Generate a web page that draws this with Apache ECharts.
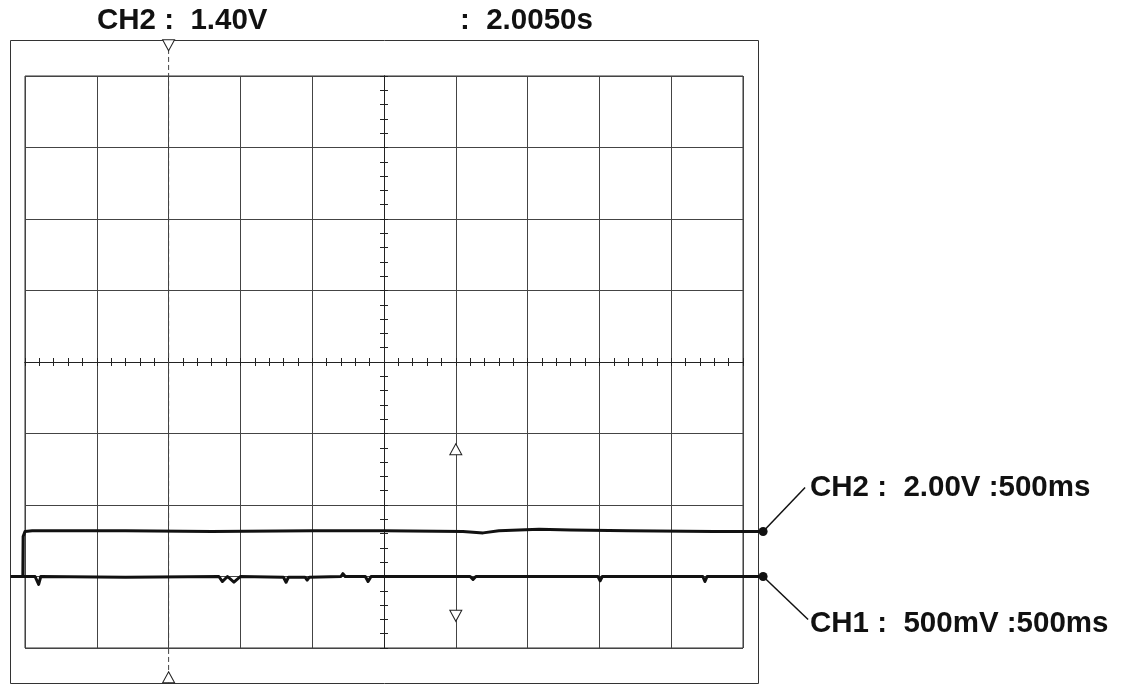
<!DOCTYPE html>
<html><head><meta charset="utf-8">
<script src="https://cdn.jsdelivr.net/npm/echarts@6/dist/echarts.min.js"></script>
<style>html,body{margin:0;padding:0;background:#fff}#c{width:1126px;height:685px}</style>
</head><body><div id="c"></div>
<script>
// Time axis: seconds relative to screen centre (500 ms/div, 10 div); vertical axis: screen divisions
const xRange = [-2.5, 2.5];
const xStep = 0.5;
const yRange = [-4, 4];
const yStep = 1;

// CH1 trace (500 mV/div)
const ch1T = [-2.60,-2.43,-2.405,-2.39,-1.80,-1.15,-1.125,-1.09,-1.045,-1.00,-0.70,-0.682,-0.665,-0.55,-0.535,-0.52,-0.30,-0.286,-0.27,-0.13,-0.111,-0.09,0.30,0.60,0.62,0.64,1.30,1.49,1.505,1.52,2.22,2.235,2.25,2.64];
const ch1V = [-3.00,-3.00,-3.11,-3.00,-3.01,-3.00,-3.07,-3.00,-3.08,-3.00,-3.01,-3.08,-3.01,-3.01,-3.05,-3.01,-3.00,-2.96,-3.00,-3.00,-3.07,-3.00,-3.00,-3.00,-3.04,-3.00,-3.00,-3.00,-3.06,-3.00,-3.00,-3.07,-3.00,-3.00];

// CH2 trace (2.00 V/div)
const ch2T = [-2.515,-2.513,-2.50,-2.45,-1.80,-1.20,-0.50,0.00,0.55,0.69,0.80,1.08,1.30,1.70,2.30,2.64];
const ch2V = [-3.00,-2.44,-2.37,-2.36,-2.36,-2.37,-2.36,-2.36,-2.37,-2.39,-2.36,-2.34,-2.35,-2.36,-2.37,-2.37];

// Cursors
const cursorT = -1.5;
const cursorSpan = [4.49, -4.49];
const markerT = [-1.5, -1.5, 0.5, 0.5];
const markerV = [4.43, -4.41, -1.22, -3.55];
const markerDown = [true, false, false, true];

// Texts
const topLabel1 = 'CH2 :  1.40V';
const topLabel2 = ':  2.0050s';
const ch2Label = 'CH2 :  2.00V :500ms';
const ch1Label = 'CH1 :  500mV :500ms';

const zip = (a, b) => a.map((v, i) => [v, b[i]]);
const last = (a) => a[a.length - 1];
const FONT = '"Liberation Sans", Arial, sans-serif';

const commonX = {type: 'value', min: xRange[0], max: xRange[1], interval: xStep, axisLabel: {show: false}};
const commonY = {type: 'value', min: yRange[0], max: yRange[1], interval: yStep, axisLabel: {show: false}};
const tickStyle = {color: '#222', width: 1};
const axisCfg = (extra) => Object.assign({
  axisLine: {show: true, onZero: true, lineStyle: {color: '#222', width: 1}},
  axisTick: {show: true, length: 4, lineStyle: tickStyle},
  minorTick: {show: true, splitNumber: 5, length: 4, lineStyle: tickStyle}
}, extra);

const chart = echarts.init(document.getElementById('c'), null, {renderer: 'canvas'});
chart.setOption({
  animation: false,
  backgroundColor: '#fff',
  grid: {left: 25, top: 76, width: 718, height: 572, show: true, borderColor: '#333', borderWidth: 1},
  xAxis: [
    Object.assign({}, commonX, axisCfg({position: 'bottom',
      splitLine: {show: true, lineStyle: {color: '#444', width: 1}}})),
    Object.assign({}, commonX, axisCfg({position: 'top',
      axisLine: {show: true, onZero: true, onZeroAxisIndex: 0, lineStyle: {color: '#222', width: 1}},
      splitLine: {show: false}}))
  ],
  yAxis: [
    Object.assign({}, commonY, axisCfg({position: 'left',
      splitLine: {show: true, lineStyle: {color: '#444', width: 1}}})),
    Object.assign({}, commonY, axisCfg({position: 'right',
      axisLine: {show: true, onZero: true, onZeroAxisIndex: 0, lineStyle: {color: '#222', width: 1}},
      splitLine: {show: false}}))
  ],
  series: [
    {name: 'cursor', type: 'lines', coordinateSystem: 'cartesian2d', xAxisIndex: 0, yAxisIndex: 0,
     polyline: true, clip: false, data: [{coords: cursorSpan.map(v => [cursorT, v])}],
     lineStyle: {color: '#444', width: 1, type: [5, 3], opacity: 1}, z: 3},
    {name: 'CH2', type: 'lines', coordinateSystem: 'cartesian2d', xAxisIndex: 0, yAxisIndex: 0,
     polyline: true, clip: false, data: [{coords: zip(ch2T, ch2V)}],
     lineStyle: {color: '#111', width: 3, opacity: 1, join: 'round'}, z: 5},
    {name: 'CH1', type: 'lines', coordinateSystem: 'cartesian2d', xAxisIndex: 0, yAxisIndex: 0,
     polyline: true, clip: false, data: [{coords: zip(ch1T, ch1V)}],
     lineStyle: {color: '#111', width: 3, opacity: 1, join: 'round'}, z: 5},
    {name: 'ends', type: 'scatter', xAxisIndex: 0, yAxisIndex: 0, clip: false,
     symbol: 'circle', symbolSize: 9, itemStyle: {color: '#111', opacity: 1},
     data: [[last(ch2T), last(ch2V)], [last(ch1T), last(ch1V)]], z: 6},
    {name: 'markers', type: 'scatter', xAxisIndex: 0, yAxisIndex: 0, clip: false,
     symbol: 'triangle', symbolSize: [12, 11],
     itemStyle: {color: '#fff', borderColor: '#222', borderWidth: 1, opacity: 1},
     data: markerT.map((t, i) => ({value: [t, markerV[i]], symbolRotate: markerDown[i] ? 180 : 0})), z: 6}
  ]
});

function px(x, y) { return chart.convertToPixel({xAxisIndex: 0, yAxisIndex: 0}, [x, y]); }
const p2 = px(last(ch2T), last(ch2V));
const p1 = px(last(ch1T), last(ch1V));
const txt = (s, x, y) => ({type: 'text', x: x, y: y, style: {text: s, fill: '#111', font: 'bold 29.5px ' + FONT, textVerticalAlign: 'middle', verticalAlign: 'middle'}, z: 10});
chart.setOption({
  graphic: [
    {type: 'rect', shape: {x: 10.5, y: 40.5, width: 748, height: 643}, style: {fill: null, stroke: '#333', lineWidth: 1}, z: 1},
    txt(topLabel1, 97, 21),
    txt(topLabel2, 460, 21),
    txt(ch2Label, 810, 488),
    txt(ch1Label, 810, 624),
    {type: 'line', shape: {x1: p2[0], y1: p2[1], x2: p2[0] + 42, y2: p2[1] - 44}, style: {stroke: '#111', lineWidth: 1.5}, z: 10},
    {type: 'line', shape: {x1: p1[0], y1: p1[1], x2: p1[0] + 45, y2: p1[1] + 43}, style: {stroke: '#111', lineWidth: 1.5}, z: 10}
  ]
});
</script></body></html>
